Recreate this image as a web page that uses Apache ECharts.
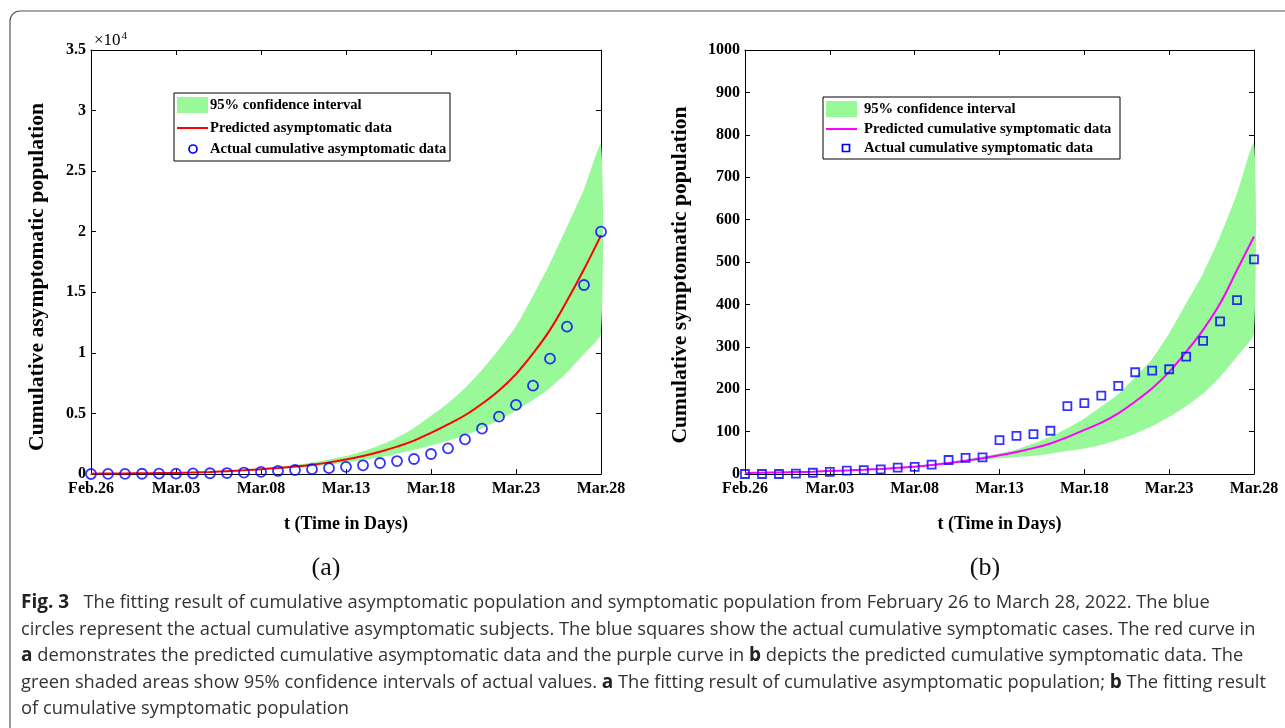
<!DOCTYPE html>
<html>
<head>
<meta charset="utf-8" />
<title>Fig. 3</title>
<script src="https://cdn.jsdelivr.net/npm/echarts@6/dist/echarts.min.js"></script>
<style>
  html, body { margin: 0; padding: 0; background: #fff; }
  #fig { width: 1285px; height: 728px; }
</style>
<script type="text/javascript">
// day index 0 = Feb.26, 30 = Mar.28
var days = [0,1,2,3,4,5,6,7,8,9,10,11,12,13,14,15,16,17,18,19,20,21,22,23,24,25,26,27,28,29,30];
var dateTicks = ['Feb.26','Mar.03','Mar.08','Mar.13','Mar.18','Mar.23','Mar.28'];
var yTicksA = ['0','0.5','1','1.5','2','2.5','3','3.5'];

// (a) asymptomatic
var asymActual = [2,8,15,20,25,35,45,60,80,120,170,250,330,400,480,590,720,910,1070,1240,1650,2120,2860,3740,4730,5700,7290,9520,12160,15600,20000];
var asymPred   = [30,40,50,60,75,92,125,165,220,300,400,500,620,770,960,1200,1490,1840,2260,2760,3400,4100,4850,5800,6900,8250,9950,11900,14300,16900,19700];
var asymUpper  = [32,42,53,65,80,100,140,185,250,340,450,580,740,940,1190,1480,1880,2380,3000,3800,4800,5850,7100,8600,10300,12200,14700,17400,20400,23500,27200];
var asymLower  = [28,38,47,56,70,85,112,145,190,255,340,420,510,620,760,950,1150,1400,1680,1980,2350,2750,3200,3750,4450,5250,6100,7100,8400,9900,11600];

// (b) symptomatic
var symActual = [0,0,0,1,3,5,8,9,11,15,17,22,33,38,39,80,90,94,102,160,167,185,208,240,244,247,277,314,360,410,506];
var symPred   = [2,3,3.5,4.5,5.5,7,8.5,10,12,14.5,17,21,26,31,37,44,52,61,72,87,104,121,143,171,202,241,288,340,402,481,560];
var symUpper  = [2,3,3.6,4.6,5.7,7.2,8.8,10.4,12.5,15.2,18,22.5,28,34,41,49,58,72,88,108,131,159,188,229,272,332,402,473,560,662,780];
var symLower  = [2,3,3.4,4.4,5.3,6.8,8.2,9.6,11.5,13.8,16,19.5,24,28.5,33,37,40,43,48,54,60,69,81,95,113,135,160,190,229,277,332];

var captionLines = [
  [['b','Fig. 3'],['n','   The fitting result of cumulative asymptomatic population and symptomatic population from February 26 to March 28, 2022. The blue']],
  [['n','circles represent the actual cumulative asymptomatic subjects. The blue squares show the actual cumulative symptomatic cases. The red curve in']],
  [['b','a'],['n',' demonstrates the predicted cumulative asymptomatic data and the purple curve in '],['b','b'],['n',' depicts the predicted cumulative symptomatic data. The']],
  [['n','green shaded areas show 95% confidence intervals of actual values. '],['b','a'],['n',' The fitting result of cumulative asymptomatic population; '],['b','b'],['n',' The fitting result']],
  [['n','of cumulative symptomatic population']]
];

var SERIF = '"Liberation Serif", "Times New Roman", serif';
var SANS = '"Open Sans", "Noto Sans", sans-serif';
var GREEN = '#99f999';

function pairs(xs, ys) {
  var out = [];
  for (var i = 0; i < xs.length; i++) out.push([xs[i], ys[i]]);
  return out;
}

function bandItem(upper, lower) {
  return function (params, api) {
    var pts = [];
    for (var i = 0; i < days.length; i++) pts.push(api.coord([days[i], upper[i]]));
    for (var j = days.length - 1; j >= 0; j--) pts.push(api.coord([days[j], lower[j]]));
    return { type: 'polygon', shape: { points: pts, smooth: 0.2 }, style: { fill: GREEN } };
  };
}

function xAxes(gi) {
  var base = {
    type: 'value', gridIndex: gi, min: 0, max: 30, interval: 5,
    axisLine: { onZero: false, lineStyle: { color: '#000', width: 1 } },
    axisTick: { inside: true, length: 5, lineStyle: { color: '#000' } },
    splitLine: { show: false }
  };
  return [
    Object.assign({}, base, {
      position: 'bottom',
      axisLabel: { margin: 7, color: '#000', fontFamily: SERIF, fontWeight: 'bold', fontSize: 16,
        formatter: function (v) { return dateTicks[v / 5]; } },
      name: 't (Time in Days)', nameLocation: 'middle', nameGap: 41,
      nameTextStyle: { color: '#000', fontFamily: SERIF, fontWeight: 'bold', fontSize: 18 }
    }),
    Object.assign({}, base, { position: 'top', axisLabel: { show: false } })
  ];
}

function yAxes(gi, max, interval, fmt) {
  var base = {
    type: 'value', gridIndex: gi, min: 0, max: max, interval: interval,
    axisLine: { show: true, onZero: false, lineStyle: { color: '#000', width: 1 } },
    axisTick: { show: true, inside: true, length: 5, lineStyle: { color: '#000' } },
    splitLine: { show: false }
  };
  return [
    Object.assign({}, base, {
      position: 'left',
      axisLabel: { margin: 5, color: '#000', fontFamily: SERIF, fontWeight: 'bold', fontSize: 16, formatter: fmt }
    }),
    Object.assign({}, base, { position: 'right', axisLabel: { show: false } })
  ];
}

function legendBox(x, y, w, h, rowY, textX, labels, lineColor, markerShape) {
  var els = [
    { type: 'rect', shape: { x: x, y: y, width: w, height: h }, style: { fill: '#fff', stroke: '#000', lineWidth: 1 }, z: 100 },
    { type: 'rect', shape: { x: x + 3, y: rowY[0] - 8, width: 31, height: 16 }, style: { fill: GREEN }, z: 101 },
    { type: 'line', shape: { x1: x + 3, y1: rowY[1], x2: x + 34, y2: rowY[1] }, style: { stroke: lineColor, lineWidth: 2 }, z: 101 }
  ];
  if (markerShape === 'circle') {
    els.push({ type: 'circle', shape: { cx: x + 19, cy: rowY[2], r: 4 }, style: { fill: 'none', stroke: '#0000ff', lineWidth: 1.7 }, z: 101 });
  } else {
    els.push({ type: 'rect', shape: { x: x + 19.5, y: rowY[2] - 3.5, width: 7, height: 7 }, style: { fill: 'none', stroke: '#0000ff', lineWidth: 1.7 }, z: 101 });
  }
  for (var i = 0; i < 3; i++) {
    els.push({ type: 'text', x: textX, y: rowY[i], z: 101,
      style: { text: labels[i], fill: '#000', font: 'bold 14.6px ' + SERIF, textVerticalAlign: 'middle' } });
  }
  return els;
}

function caption() {
  var els = [];
  var top = 603;
  for (var i = 0; i < captionLines.length; i++) {
    var txt = captionLines[i].map(function (p) { return '{' + p[0] + '|' + p[1] + '}'; }).join('');
    els.push({ type: 'text', x: 21, y: top + i * 26.5,
      style: {
        text: txt, textVerticalAlign: 'middle',
        rich: {
          n: { fontFamily: SANS, fontSize: 18.3, fill: '#333' },
          b: { fontFamily: SANS, fontSize: 19, fontWeight: 'bold', fill: '#222' }
        }
      } });
  }
  return els;
}

function yTitle(x, y, text) {
  return { type: 'text', x: x, y: y, rotation: Math.PI / 2,
    style: { text: text, font: 'bold 21.6px ' + SERIF, fill: '#000', textAlign: 'center', textVerticalAlign: 'middle' } };
}

window.onload = function () {
  var chart = echarts.init(document.getElementById('fig'), null, { renderer: 'canvas' });

  var graphics = [
    { type: 'rect', shape: { x: 10, y: 11, width: 1360, height: 760, r: 10 }, style: { fill: 'none', stroke: '#555', lineWidth: 1.2 } },
    { type: 'text', x: 94, y: 41, style: { text: '×10{s|4}', font: '17px ' + SERIF, fill: '#000', textVerticalAlign: 'middle',
        rich: { s: { fontSize: 11, fontFamily: SERIF, verticalAlign: 'top', padding: [0, 0, 9, 1] } } } },
    yTitle(37, 277, 'Cumulative asymptomatic population'),
    yTitle(680, 275, 'Cumulative symptomatic population'),
    { type: 'text', x: 326, y: 568, style: { text: '(a)', font: '26px ' + SERIF, fill: '#111', textAlign: 'center', textVerticalAlign: 'middle' } },
    { type: 'text', x: 985, y: 568, style: { text: '(b)', font: '26px ' + SERIF, fill: '#111', textAlign: 'center', textVerticalAlign: 'middle' } }
  ];
  graphics = graphics.concat(
    legendBox(174, 93, 276, 68, [105, 128, 149], 210,
      ['95% confidence interval', 'Predicted asymptomatic data', 'Actual cumulative asymptomatic data'], '#ff0000', 'circle'),
    legendBox(823, 97, 297, 62, [109, 129, 148], 864,
      ['95% confidence interval', 'Predicted cumulative symptomatic data', 'Actual cumulative symptomatic data'], '#ff00ff', 'square'),
    caption()
  );

  var option = {
    animation: false,
    backgroundColor: '#fff',
    grid: [
      { left: 91, top: 50, width: 510, height: 424 },
      { left: 745, top: 50, width: 509, height: 424 }
    ],
    xAxis: xAxes(0).concat(xAxes(1)),
    yAxis: yAxes(0, 35000, 5000, function (v) { return yTicksA[v / 5000]; })
      .concat(yAxes(1, 1000, 100, function (v) { return String(v); })),
    series: [
      { name: '95% confidence interval', type: 'custom', xAxisIndex: 0, yAxisIndex: 0, data: [[0, 0]],
        renderItem: bandItem(asymUpper, asymLower), z: 1 },
      { name: 'Predicted asymptomatic data', type: 'line', xAxisIndex: 0, yAxisIndex: 0, data: pairs(days, asymPred),
        symbol: 'none', smooth: 0.4, lineStyle: { color: '#ff0000', width: 2 }, z: 3 },
      { name: 'Actual cumulative asymptomatic data', type: 'scatter', xAxisIndex: 0, yAxisIndex: 0, data: pairs(days, asymActual),
        symbol: 'circle', symbolSize: 10, itemStyle: { color: 'rgba(0,0,0,0)', borderColor: '#0000ff', borderWidth: 1.8 }, z: 4 },

      { name: '95% confidence interval', type: 'custom', xAxisIndex: 2, yAxisIndex: 2, data: [[0, 0]],
        renderItem: bandItem(symUpper, symLower), z: 1 },
      { name: 'Predicted cumulative symptomatic data', type: 'line', xAxisIndex: 2, yAxisIndex: 2, data: pairs(days, symPred),
        symbol: 'none', smooth: 0.4, lineStyle: { color: '#ff00ff', width: 2 }, z: 3 },
      { name: 'Actual cumulative symptomatic data', type: 'scatter', xAxisIndex: 2, yAxisIndex: 2, data: pairs(days, symActual),
        symbol: 'rect', symbolSize: 8, itemStyle: { color: 'rgba(0,0,0,0)', borderColor: '#0000ff', borderWidth: 1.8 }, z: 4 }
    ],
    graphic: graphics
  };
  chart.setOption(option);
};
</script>
</head>
<body>
  <div id="fig"></div>
</body>
</html>
